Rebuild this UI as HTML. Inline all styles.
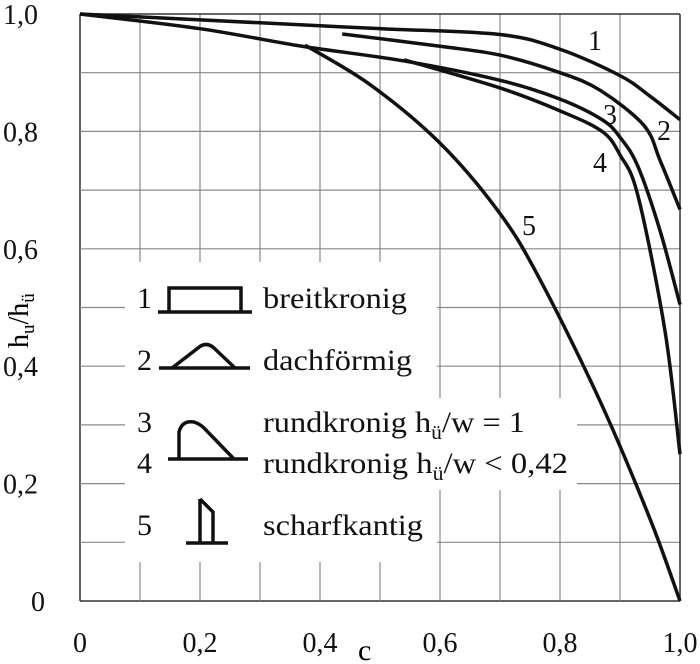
<!DOCTYPE html>
<html><head><meta charset="utf-8"><style>
body{margin:0;background:#fff}
svg{display:block;font-family:"Liberation Serif",serif}
</style></head><body>
<svg id="chart" width="700" height="664">
<g id="grid"></g>
<g id="ticks" font-size="28" fill="#111"></g>
<g id="curves"></g>
<text x="358" y="660" font-size="30">c</text>
<text transform="translate(28,348) rotate(-90)" font-size="28">h<tspan font-size="19" dy="6">u</tspan><tspan dy="-6">/h</tspan><tspan font-size="19" dy="6">ü</tspan></text>
<g font-size="28" fill="#111">
<text x="588" y="50">1</text><text x="657" y="140">2</text><text x="603" y="124">3</text><text x="593" y="172">4</text><text x="522" y="235">5</text>
</g>
<g font-size="30" fill="#111" stroke-width="3.5">
<rect x="125" y="262" width="312" height="300" fill="#fff" stroke="none"/>
<rect x="430" y="398" width="147" height="92" fill="#fff" stroke="none"/>
<text x="137" y="308">1</text>
<path d="M158 312H252M169 312V288H241V312" fill="none" stroke="#111"/>
<text x="263" y="308" textLength="144" lengthAdjust="spacingAndGlyphs">breitkronig</text>
<text x="137" y="370">2</text>
<path d="M159 368H250M172 368L198 348Q206 341 214 348L235 368" fill="none" stroke="#111"/>
<text x="263" y="370" textLength="149" lengthAdjust="spacingAndGlyphs">dachförmig</text>
<text x="137" y="432">3</text><text x="137" y="473">4</text>
<path d="M168 459H248M179 459V432Q182 420 194 422Q200 424 204 428L234 459" fill="none" stroke="#111"/>
<text x="263" y="432" textLength="262" lengthAdjust="spacingAndGlyphs">rundkronig h<tspan font-size="20" dy="7">ü</tspan><tspan dy="-7">/w = 1</tspan></text>
<text x="263" y="473" textLength="305" lengthAdjust="spacingAndGlyphs">rundkronig h<tspan font-size="20" dy="7">ü</tspan><tspan dy="-7">/w &lt; 0,42</tspan></text>
<text x="137" y="535">5</text>
<path d="M186 543H228M200 543V499M200 499L213 512V543" fill="none" stroke="#111"/>
<text x="263" y="535" textLength="160" lengthAdjust="spacingAndGlyphs">scharfkantig</text>
</g>
</svg>
<script>
const xTicks=[0,0.2,0.4,0.6,0.8,1.0];
const yTicks=[0,0.2,0.4,0.6,0.8,1.0];
const c1x=[0,0.3,0.5,0.7,0.8,0.9,0.95,1.0];
const c1y=[1,0.985,0.975,0.965,0.94,0.895,0.86,0.82];
const c2x=[0.437,0.6,0.7,0.8,0.867,0.94,0.967,1.0];
const c2y=[0.966,0.945,0.93,0.9,0.87,0.81,0.75,0.667];
const c3x=[0,0.2,0.37,0.54,0.7,0.8,0.87,0.9,0.93,0.967,1.0];
const c3y=[1,0.975,0.945,0.92,0.887,0.855,0.82,0.79,0.74,0.63,0.505];
const c4x=[0.54,0.7,0.8,0.87,0.9,0.93,0.975,1.0];
const c4y=[0.922,0.874,0.835,0.8,0.76,0.69,0.46,0.25];
const c5x=[0.375,0.483,0.6,0.7,0.767,0.867,0.95,1.0];
const c5y=[0.947,0.88,0.78,0.66,0.547,0.34,0.14,0];
const X=v=>80+600*v, Y=v=>601-587*v;
const NS="http://www.w3.org/2000/svg";
const grid=document.getElementById('grid'),ticks=document.getElementById('ticks'),cg=document.getElementById('curves');
for(let i=0;i<=10;i++){
 const v=i/10;
 const a=document.createElementNS(NS,'line');
 a.setAttribute('x1',X(v));a.setAttribute('x2',X(v));a.setAttribute('y1',Y(0));a.setAttribute('y2',Y(1));
 a.setAttribute('stroke',(i==0||i==10)?'#333':'#888');a.setAttribute('stroke-width',(i==0||i==10)?1.5:1.2);
 
 
 grid.appendChild(a);
 const b=document.createElementNS(NS,'line');
 b.setAttribute('y1',Y(v));b.setAttribute('y2',Y(v));b.setAttribute('x1',X(0));b.setAttribute('x2',X(1));
 b.setAttribute('stroke',(i==0||i==10)?'#333':'#888');b.setAttribute('stroke-width',(i==0||i==10)?1.5:1.2);
 
 
 grid.appendChild(b);
}
const fmt=v=>v===0?'0':v.toFixed(1).replace('.',',');
xTicks.forEach(v=>{const t=document.createElementNS(NS,'text');t.setAttribute('x',X(v));t.setAttribute('y',652);t.setAttribute('text-anchor','middle');t.textContent=fmt(v);
 
 
 ticks.appendChild(t);});
yTicks.forEach(v=>{const t=document.createElementNS(NS,'text');t.setAttribute('x',v===0?31:3);t.setAttribute('y',Y(v)+10);t.textContent=fmt(v);
 
 
 ticks.appendChild(t);});
function curve(xs,ys,name){
 const p=xs.map((x,i)=>[X(x),Y(ys[i])]);
 let d='M'+p[0][0]+' '+p[0][1];
 for(let i=0;i<p.length-1;i++){
  const p0=p[i-1]||p[i],p1=p[i],p2=p[i+1],p3=p[i+2]||p2;
  d+=` C${p1[0]+(p2[0]-p0[0])/6} ${p1[1]+(p2[1]-p0[1])/6} ${p2[0]-(p3[0]-p1[0])/6} ${p2[1]-(p3[1]-p1[1])/6} ${p2[0]} ${p2[1]}`;
 }
 const e=document.createElementNS(NS,'path');
 e.setAttribute('d',d);e.setAttribute('fill','none');e.setAttribute('stroke','#111');e.setAttribute('stroke-width',3.5);
 
 
 cg.appendChild(e);
}
curve(c1x,c1y,'curve-1');curve(c2x,c2y,'curve-2');curve(c3x,c3y,'curve-3');curve(c4x,c4y,'curve-4');curve(c5x,c5y,'curve-5');
</script>
</body></html>
